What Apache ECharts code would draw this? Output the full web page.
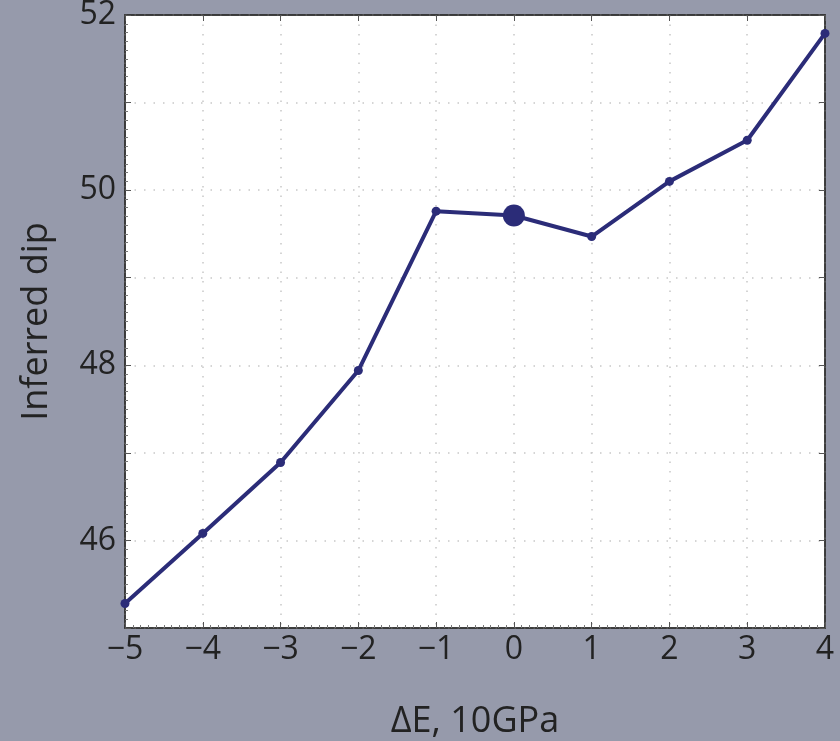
<!DOCTYPE html>
<html><head><meta charset="utf-8">
<script src="https://cdn.jsdelivr.net/npm/echarts@6/dist/echarts.min.js"></script>
<style>html,body{margin:0;padding:0;background:#969aab;}#c{width:840px;height:741px;}</style>
</head><body><div id="c"></div>
<script>
const xValues = [-5, -4, -3, -2, -1, 0, 1, 2, 3, 4];
const dipValues = [45.28, 46.08, 46.89, 47.94, 49.76, 49.71, 49.47, 50.10, 50.57, 51.79];
const highlightIndex = 5;
const yTickLabels = [46, 48, 50, 52];

const chart = echarts.init(document.getElementById('c'));
const font = '"Open Sans", "DejaVu Sans", sans-serif';
const axisCommon = {
  axisLine: {show: true, onZero: false, lineStyle: {color: '#333', width: 1.5}},
  axisTick: {show: true, inside: true, length: 6, lineStyle: {color: '#555'}},
  minorTick: {show: true, splitNumber: 10, length: 3, lineStyle: {color: '#777'}},
};
chart.setOption({
  backgroundColor: '#969aab',
  animation: false,
  grid: {left: 125, right: 15, top: 15, bottom: 113, outerBoundsMode: 'none', containLabel: false,
    show: true, backgroundColor: '#ffffff', borderColor: '#333', borderWidth: 1.5},
  xAxis: [{
    type: 'value', min: -5, max: 4, interval: 1,
    ...axisCommon,
    axisLabel: {color: '#222', fontSize: 32, fontFamily: font, margin: 6,
      formatter: v => (v < 0 ? '\u2212' + Math.abs(v) : String(v))},
    splitLine: {show: true, lineStyle: {color: '#c8c8c8', type: [1.5, 8], width: 1.5}},
    name: '\u0394E, 10GPa', nameLocation: 'middle', nameGap: 76,
    nameTextStyle: {color: '#222', fontSize: 36, fontFamily: font}
  }, {
    type: 'value', min: -5, max: 4, interval: 1, position: 'top',
    ...axisCommon, minorTick: {show: false},
    axisLabel: {show: false}, splitLine: {show: false}
  }],
  yAxis: [{
    type: 'value', min: 45, max: 52, interval: 1,
    ...axisCommon,
    axisLabel: {color: '#222', fontSize: 32, fontFamily: font, margin: 9,
      formatter: v => (yTickLabels.indexOf(v) >= 0 ? String(v) : '')},
    splitLine: {show: true, lineStyle: {color: '#c8c8c8', type: [1.5, 8], width: 1.5}},
    name: 'Inferred dip', nameLocation: 'middle', nameGap: 70,
    nameTextStyle: {color: '#222', fontSize: 36, fontFamily: font}
  }, {
    type: 'value', min: 45, max: 52, interval: 1, position: 'right',
    ...axisCommon, minorTick: {show: false},
    axisLabel: {show: false}, splitLine: {show: false}
  }],
  series: [{
    type: 'line',
    data: xValues.map((x, i) => ({
      value: [x, dipValues[i]],
      symbolSize: i === highlightIndex ? 22 : 9
    })),
    symbol: 'circle',
    lineStyle: {color: '#2b2c78', width: 4},
    itemStyle: {color: '#2b2c78'},
    clip: false
  }]
});
</script></body></html>
